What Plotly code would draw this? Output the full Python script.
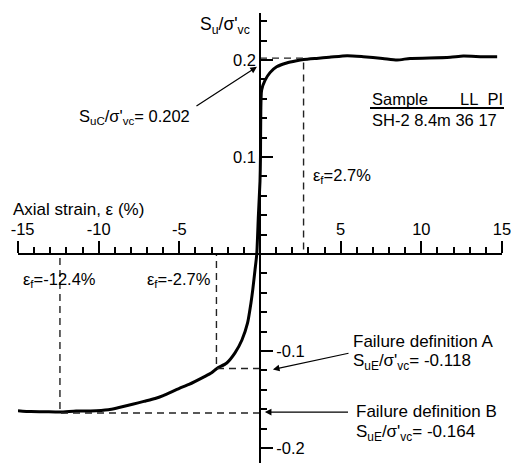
import plotly.graph_objects as go

# ---- data ----
strain = [-15.0, -14.2, -13.4, -12.4, -11.4, -10.5, -9.4, -8.8, -7.9, -7.2,
          -6.5, -6.0, -5.0, -4.4, -3.5, -3.0, -2.67, -2.06, -1.55, -1.12,
          -0.77, -0.56, -0.45, -0.31, -0.2, -0.1, 0.0, 0.03, 0.05, 0.1,
          0.31, 0.62, 1.03, 1.65, 2.27, 2.7, 3.5, 4.3, 5.4, 6.4,
          7.6, 8.5, 9.3, 10.5, 11.8, 12.6, 13.8, 14.7]
ratio = [-0.1615, -0.1625, -0.1626, -0.1630, -0.1620, -0.1618, -0.1605, -0.1585, -0.1550, -0.1520,
         -0.1490, -0.1460, -0.1385, -0.1345, -0.1270, -0.1225, -0.1180, -0.1124, -0.1020, -0.0887,
         -0.0711, -0.0505, -0.0370, -0.0165, 0.0, 0.040, 0.075, 0.100, 0.147, 0.169,
         0.179, 0.187, 0.193, 0.197, 0.1993, 0.2005, 0.2017, 0.2028, 0.2045, 0.2035,
         0.2017, 0.2000, 0.2017, 0.2020, 0.2028, 0.2041, 0.2035, 0.2035]

fail_strain = [2.7, -2.7, -12.4]        # eps_f
fail_ratio = [0.202, -0.118, -0.164]    # Su/sigma'vc at failure

x_tickvals = [-15, -10, -5, 5, 10, 15]
x_ticktext = ['\u00a0\u00a0-15', '-10', '-5', '5', '10', '15']
y_pos_tickvals = [0.1, 0.2]
y_pos_ticktext = ['0.1', '0.2']
y_neg_tickvals = [-0.1, -0.2]
y_neg_ticktext = ['-0.1', '-0.2']

# ---- figure ----
XMIN, XMAX = -15, 15
YMIN, YMAX = -0.2155, 0.2485
FONT = 'Arial, Liberation Sans, sans-serif'
FS = 16.5

fig = go.Figure()

# failure reference dashed lines (built from failure values)
dash_x, dash_y = [], []
for e, s in zip(fail_strain, fail_ratio):
    dash_x += [0, e, e, None]
    dash_y += [s, s, 0, None]
fig.add_trace(go.Scatter(x=dash_x, y=dash_y, mode='lines', yaxis='y2',
                         line=dict(color='#222', width=1.4, dash='7px,5px'),
                         hoverinfo='skip'))

fig.add_trace(go.Scatter(x=strain, y=ratio, mode='lines',
                         line=dict(color='black', width=3, shape='spline', smoothing=0.6)))

minor_x = [v for v in range(-14, 15) if v % 5 != 0]
minor_y = [round(-0.2 + 0.02 * i, 2) for i in range(0, 23)]
minor_y = [v for v in minor_y if abs(round(v * 10) - v * 10) > 1e-6]

fig.update_layout(
    width=511, height=463,
    margin=dict(l=18, r=9, t=13, b=0),
    plot_bgcolor='white', paper_bgcolor='white',
    showlegend=False,
    font=dict(family=FONT, size=FS, color='black'),
    xaxis=dict(range=[XMIN, XMAX], anchor='free', position=-YMIN / (YMAX - YMIN),
               side='top', showline=True, linecolor='black', linewidth=1.5,
               ticks='outside', ticklen=12, tickwidth=1.5, tickcolor='black',
               tickmode='array', tickvals=x_tickvals, ticktext=x_ticktext,
               minor=dict(tickmode='array', tickvals=minor_x, ticks='outside',
                          ticklen=6, tickwidth=1.5, tickcolor='black', showgrid=False),
               showgrid=False, zeroline=False, ticklabelstandoff=0, automargin=False,
               ticklabeloverflow='allow'),
    yaxis=dict(range=[YMIN, YMAX], anchor='free', position=-XMIN / (XMAX - XMIN),
               side='left', showline=True, linecolor='black', linewidth=1.5,
               ticks='inside', ticklen=12, tickwidth=1.5, tickcolor='black',
               tickmode='array', tickvals=y_pos_tickvals, ticktext=y_pos_ticktext,
               minor=dict(tickmode='array', tickvals=minor_y, ticks='inside',
                          ticklen=6, tickwidth=1.5, tickcolor='black', showgrid=False),
               showgrid=False, zeroline=False, automargin=False),
    yaxis2=dict(range=[YMIN, YMAX], overlaying='y', anchor='free',
                position=-XMIN / (XMAX - XMIN), side='right', showline=False,
                ticks='outside', ticklen=12, tickwidth=1.5, tickcolor='black',
                tickmode='array', tickvals=y_neg_tickvals, ticktext=y_neg_ticktext,
                showgrid=False, zeroline=False, automargin=False),
)

def txt(x, y, s, xanchor='left', xref='x', xshift=0, size=FS):
    fig.add_annotation(x=x, y=y, xref=xref, yref='y', text=s, showarrow=False,
                       xanchor=xanchor, yanchor='middle', xshift=xshift,
                       font=dict(family=FONT, size=size, color='black'))

def arrow(x, y, ax, ay):
    fig.add_annotation(x=x, y=y, ax=ax, ay=ay, xref='x', yref='y', axref='x', ayref='y',
                       text='', showarrow=True, arrowhead=2, arrowsize=1.1,
                       arrowwidth=1.2, arrowcolor='black', standoff=0)

# axis titles
txt(-0.5, 0.236, "S<sub>u</sub>/σ'<sub>vc</sub>", xanchor='right', size=17.5)
txt(0, 0.0454, "Axial strain, ε (%)", xref='paper', xshift=-7, size=17)

# compression peak
txt(-4.21, 0.1412, "S<sub>uC</sub>/σ'<sub>vc</sub>= 0.202", xanchor='right')
arrow(-0.19, 0.193, -4.03, 0.1515)

# failure strains
txt(3.14, 0.0804, "ε<sub>f</sub>=2.7%")
txt(-2.91, -0.0268, "ε<sub>f</sub>=-2.7%", xanchor='right')
txt(-14.83, -0.0268, "ε<sub>f</sub>=-12.4%")

# failure definitions
txt(5.62, -0.0897, "Failure definition A", size=17)
txt(5.62, -0.1113, "S<sub>uE</sub>/σ'<sub>vc</sub>= -0.118", size=17)
arrow(0.80, -0.119, 5.58, -0.102)
txt(5.85, -0.1624, "Failure definition B", size=17)
txt(5.85, -0.1850, "S<sub>uE</sub>/σ'<sub>vc</sub>= -0.164", size=17)
arrow(0.30, -0.163, 5.55, -0.163)

# sample table
nb = '\u00a0'
txt(6.82, 0.160, "Sample" + nb * 7 + "LL" + nb * 2 + "PI")
txt(6.82, 0.138, "SH-2 8.4m 36 17")
fig.add_shape(type='line', xref='paper', yref='y', x0=(370 - 18) / 484, x1=(504 - 18) / 484,
              y0=0.1505, y1=0.1505, line=dict(color='black', width=2))

fig.write_html("out.html", config={'displayModeBar': False},
               post_script="document.body.style.margin='0';document.body.style.overflow='hidden';")
